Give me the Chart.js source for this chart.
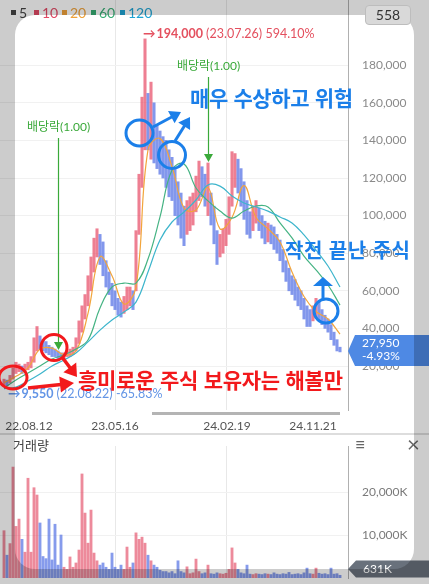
<!DOCTYPE html>
<html lang="ko">
<head>
<meta charset="utf-8">
<title>주가 차트</title>
<script src="https://cdn.jsdelivr.net/npm/chart.js@4.4.1/dist/chart.umd.min.js"></script>
<style>
  html, body { margin: 0; padding: 0; background: #fff; }
  #stage { position: relative; width: 429px; height: 584px; overflow: hidden; font-family: Lato, "Noto Sans CJK KR", sans-serif; }
  #priceWrap { position: absolute; left: 0; top: 0; width: 429px; height: 434px; }
  #volWrap { position: absolute; left: 0; top: 436px; width: 429px; height: 148px; }
  .abs { position: absolute; white-space: nowrap; }
  #panelLine { left: 0; top: 433px; width: 429px; height: 2px; background: #dddddd; }
  #scroll { left: 152px; top: 412px; width: 188px; height: 3px; background: #b4b4b4; }
  .lg { top: 4px; font-size: 14px; line-height: 18px; }
  .lg i { display: inline-block; width: 5px; height: 5px; margin-right: 3px; vertical-align: 3px; }
  #volTitle { left: 13px; top: 436px; font-size: 13px; line-height: 18px; color: #444; font-family: "Noto Sans CJK KR"; }
  #menu { left: 355px; top: 433px; font-size: 18px; line-height: 22px; color: #666; }
  #close { left: 407px; top: 432px; font-size: 22px; line-height: 24px; color: #666; }
  #shade { position: absolute; left: 15px; top: 15px; width: 399px; height: 554px; border-radius: 20px;
           box-shadow: 0 0 0 700px rgba(0,0,0,0.2); z-index: 5; pointer-events: none; }
  #box558 { z-index: 6; left: 365px; top: 5px; width: 44px; height: 18px; border: 1px solid #bdbdbd; border-radius: 4px;
            background: #d9d9d9; font-size: 14px; line-height: 18px; text-align: center; color: #333; }
  #notes { position: absolute; left: 0; top: 0; z-index: 7; }
</style>
</head>
<body>
<div id="stage">
  <div id="priceWrap"><canvas id="priceChart"></canvas></div>
  <div id="volWrap"><canvas id="volChart"></canvas></div>
  <div class="abs" id="panelLine"></div>
  <div class="abs" id="scroll"></div>

  <div class="abs lg" style="left:11px;color:#444"><i style="background:#444"></i>5</div>
  <div class="abs lg" style="left:34px;color:#e24a66"><i style="background:#e24a66"></i>10</div>
  <div class="abs lg" style="left:62px;color:#f0a23a"><i style="background:#f0a23a"></i>20</div>
  <div class="abs lg" style="left:91px;color:#38ad74"><i style="background:#38ad74"></i>60</div>
  <div class="abs lg" style="left:120px;color:#1fa4d4"><i style="background:#1fa4d4"></i>120</div>

  <div class="abs" id="volTitle">거래량</div>
  <div class="abs" id="menu">≡</div>
  <div class="abs" id="close">×</div>

  <div id="shade"></div>
  <div class="abs" id="box558">558</div>
  <svg id="notes" width="429" height="584"></svg>
</div>

<script>
// prices are typed in thousands of won
const UNIT = 1000;

// one candle per ~5 trading days (low / high)
const lowsK = [10, 9.55, 11, 13, 16, 17, 16, 17, 18, 19, 22, 28, 29, 28, 27, 26, 25, 25, 24, 24,
  24, 25, 25, 26, 28, 32, 38, 45, 52, 60, 70, 78, 74, 68, 62, 58, 52, 50, 47, 46,
  48, 50, 52, 50, 60, 90, 115, 135, 135, 130, 128, 125, 122, 120, 115, 110, 108, 100, 95, 88,
  84, 90, 92, 95, 102, 108, 110, 105, 100, 95, 85, 74, 78, 80, 84, 90, 105, 115, 112, 105,
  98, 90, 88, 92, 96, 92, 88, 85, 86, 85, 82, 80, 76, 70, 65, 60, 58, 55, 52, 50,
  45, 41, 41, 44, 46, 44, 42, 40, 38, 34, 31, 28, 27.5];
const highsK = [13, 12.5, 15, 19, 22, 21, 20, 21, 22, 25, 35, 41, 36, 34, 33, 31, 30, 29, 28, 27,
  27, 28, 29, 30, 35, 44, 52, 58, 68, 78, 88, 93, 90, 86, 76, 70, 64, 60, 56, 54,
  57, 62, 62, 60, 92, 122, 163, 194, 165, 171, 160, 148, 145, 142, 140, 135, 131, 125, 118, 112,
  105, 108, 110, 112, 121, 129, 126, 122, 128, 112, 105, 92, 90, 93, 98, 110, 134, 133, 130, 125,
  118, 108, 102, 105, 108, 104, 100, 97, 96, 95, 94, 90, 87, 82, 76, 72, 68, 66, 62, 60,
  56, 52, 50, 52, 56, 54, 50, 47, 45, 42, 38, 34, 30];

// moving averages, read every 4th candle
const MA_STEP = 4;
const ma20K = [11, 14.5, 19, 29, 29.5, 26, 28, 48, 78, 68, 53, 62, 135, 141, 126, 104, 103, 115, 93, 99,
  116, 99, 93, 86, 70, 57, 49, 45, 37];
const ma60K = [8.3, 12.6, 16.3, 20, 23.7, 25.9, 29, 33.8, 50.9, 62, 64.1, 64.1, 76.9, 99.3, 124.3, 127.5,
  114.7, 107.8, 102.4, 98.7, 102.4, 105.1, 104.6, 96.1, 88.1, 78.5, 71.1, 63.1, 52.4];
const ma120K = [8, 8.8, 12, 15.7, 20, 23.2, 26.9, 32.8, 39.1, 44.5, 48.7, 54, 70, 87, 96.6, 101.9,
  108.3, 116.3, 115.7, 110.4, 106.7, 104.6, 102.4, 99.3, 96.1, 89.7, 81.7, 73.2, 62];

// volume in thousand shares
const volumesK = [11000, 5300, 8000, 25800, 12000, 13700, 9000, 6000, 23200, 6000,
  21000, 19300, 12800, 5000, 4500, 13700, 4200, 12500, 3000, 10000,
  2500, 2000, 4900, 2500, 3500, 6500, 24200, 15100, 8100, 15800,
  5800, 4000, 3000, 3500, 2500, 2000, 5800, 2500, 2000, 3000,
  2000, 7200, 2500, 3500, 10500, 9000, 9500, 8100, 5300, 4000,
  3000, 2500, 1800, 1500, 1500, 1200, 1500, 1000, 4000, 1500,
  1200, 2600, 1000, 1200, 4400, 1500, 1000, 1200, 3000, 1000,
  900, 1200, 1000, 900, 1100, 2000, 7000, 3500, 2000, 1200,
  1000, 3000, 900, 800, 1000, 900, 800, 1000, 900, 800,
  1200, 900, 800, 1000, 900, 1300, 800, 900, 1000, 800,
  1200, 2300, 1000, 900, 2300, 1100, 900, 1000, 800, 2300,
  900, 1000, 631];

const priceTicks = [20000, 40000, 60000, 80000, 100000, 120000, 140000, 160000, 180000];
const volumeTicks = [10000, 20000];
const dateTickIdx = [8.3, 37, 74.3, 103];
const dateLabels = ['22.08.12', '23.05.16', '24.02.19', '24.11.21'];
const gridDateIdx = [37, 74.3];
const maxDate = '23.07.26';
const minDate = '22.08.22';
const lastPrice = 27950;
const lastChangePct = -4.93;
const exDivIdx = [18, 68];
const exDivText = '배당락(1.00)';

// candle colour from the direction of each bar's midpoint
const mids = lowsK.map((l, i) => (l + highsK[i]) / 2);
const isUp = mids.map((m, i) => i === 0 ? true : m >= mids[i - 1]);
const UP = 'rgba(232,78,104,0.72)';
const DOWN = 'rgba(88,116,230,0.75)';

const X_MIN = -4 / 3;
const X_MAX = X_MIN + 116;

const maPoints = arr => arr.map((v, k) => ({ x: k * MA_STEP, y: v * UNIT }));
const fmt = v => Math.round(v).toLocaleString('en-US');

function maSet(arr, color) {
    return { type: 'line', data: maPoints(arr), borderColor: color, borderWidth: 1.2,
             pointRadius: 0, tension: 0.4, order: 1 };
}

const priceMarks = {
    id: 'priceMarks',
    afterDraw(chart) {
        const { ctx, chartArea } = chart;
        const x = chart.scales.x, y = chart.scales.y;
        ctx.save();
        ctx.textBaseline = 'middle';
        ctx.textAlign = 'left';

        // ex-dividend markers
        const labelY = [127, 66];
        ctx.strokeStyle = '#3aa93a';
        ctx.fillStyle = '#3aa93a';
        ctx.lineWidth = 1.2;
        exDivIdx.forEach((idx, k) => {
            const px = Math.round(x.getPixelForValue(idx)) + 0.5;
            const tip = y.getPixelForValue(highsK[idx] * UNIT) - 1;
            ctx.beginPath();
            ctx.moveTo(px, labelY[k] + 11);
            ctx.lineTo(px, tip - 7);
            ctx.stroke();
            ctx.beginPath();
            ctx.moveTo(px - 4.5, tip - 8);
            ctx.lineTo(px + 4.5, tip - 8);
            ctx.lineTo(px, tip);
            ctx.closePath();
            ctx.fill();
            ctx.font = '12px Lato, "Noto Sans CJK KR"';
            ctx.textAlign = 'center';
            ctx.fillText(exDivText, px, labelY[k]);
            ctx.textAlign = 'left';
        });

        // highest / lowest labels
        const hi = Math.max(...highsK), hiIdx = highsK.indexOf(hi);
        const lo = Math.min(...lowsK), loIdx = lowsK.indexOf(lo);
        const hiPct = ((hi * UNIT / lastPrice) - 1) * 100;
        const loPct = ((lo * UNIT / lastPrice) - 1) * 100;

        let tx = x.getPixelForValue(hiIdx) - 2;
        let ty = y.getPixelForValue(hi * UNIT) - 5;
        ctx.fillStyle = '#e4505f';
        ctx.font = 'bold 12.5px Lato, "DejaVu Sans"';
        ctx.fillText('→', tx, ty); tx += ctx.measureText('→').width + 1;
        ctx.fillText(fmt(hi * UNIT), tx, ty); tx += ctx.measureText(fmt(hi * UNIT)).width;
        ctx.font = '12.5px Lato';
        ctx.fillText(' (' + maxDate + ') ' + hiPct.toFixed(2) + '%', tx, ty);

        tx = x.getPixelForValue(loIdx) + 1;
        ty = y.getPixelForValue(lo * UNIT) + 8;
        ctx.fillStyle = '#6395e6';
        ctx.font = 'bold 12.5px Lato, "DejaVu Sans"';
        ctx.fillText('→', tx, ty); tx += ctx.measureText('→').width + 1;
        ctx.fillText(fmt(lo * UNIT), tx, ty); tx += ctx.measureText(fmt(lo * UNIT)).width;
        ctx.font = '12.5px Lato';
        ctx.fillText(' (' + minDate + ') ' + loPct.toFixed(2) + '%', tx, ty);

        // current price tag on the axis
        const cy = y.getPixelForValue(lastPrice);
        const L = chartArea.right;
        ctx.fillStyle = '#4e89e4';
        ctx.beginPath();
        ctx.moveTo(L, cy);
        ctx.lineTo(L + 7, cy - 16);
        ctx.lineTo(429, cy - 16);
        ctx.lineTo(429, cy + 15);
        ctx.lineTo(L + 7, cy + 15);
        ctx.closePath();
        ctx.fill();
        ctx.fillStyle = '#ffffff';
        ctx.font = '12px Lato';
        ctx.fillText(fmt(lastPrice), L + 14, cy - 8);
        ctx.fillText(lastChangePct.toFixed(2) + '%', L + 14, cy + 5);
        ctx.restore();
    }
};

new Chart(document.getElementById('priceChart'), {
    type: 'bar',
    data: {
        datasets: [
            maSet(ma120K, '#3db5cc'),
            maSet(ma60K, '#45b383'),
            maSet(ma20K, '#f2a53c'),
            {
                type: 'bar',
                data: lowsK.map((l, i) => ({ x: i, y: [l * UNIT, highsK[i] * UNIT] })),
                backgroundColor: isUp.map(u => u ? UP : DOWN),
                barThickness: 2.4,
                order: 2
            }
        ]
    },
    options: {
        responsive: true,
        maintainAspectRatio: false,
        animation: false,
        layout: { padding: { left: 0, right: 0, top: 0, bottom: 0 } },
        plugins: { legend: { display: false }, tooltip: { enabled: false } },
        scales: {
            x: {
                type: 'linear', min: X_MIN, max: X_MAX, offset: false,
                afterBuildTicks: s => { s.ticks = dateTickIdx.map(v => ({ value: v })); },
                afterFit: s => { s.height = 24; s.paddingLeft = 0; s.paddingRight = 0; },
                ticks: {
                    callback: (v, i) => dateLabels[i],
                    padding: 9, color: '#555', font: { size: 12, family: 'Lato' },
                    maxRotation: 0, autoSkip: false
                },
                grid: {
                    drawTicks: false, offset: false,
                    color: c => (c.tick && gridDateIdx.includes(c.tick.value)) ? '#e8e8e8' : 'rgba(0,0,0,0)'
                },
                border: { display: false }
            },
            y: {
                position: 'right', min: -3404, max: 214681,
                afterBuildTicks: s => { s.ticks = priceTicks.map(v => ({ value: v })); },
                afterFit: s => { s.width = 81; s.paddingTop = 0; s.paddingBottom = 0; },
                ticks: { callback: v => fmt(v), color: '#8a8a8a', font: { size: 12, family: 'Lato' }, padding: 14 },
                grid: { color: '#f1f1f1', drawTicks: false },
                border: { display: true, color: '#b0b0b0' }
            }
        }
    },
    plugins: [priceMarks]
});

const volumeMarks = {
    id: 'volumeMarks',
    afterDraw(chart) {
        const { ctx, chartArea } = chart;
        const y = chart.scales.y;
        const last = volumesK[volumesK.length - 1];
        const cy = Math.min(y.getPixelForValue(last), chartArea.bottom - 9);
        const L = chartArea.right;
        ctx.save();
        ctx.fillStyle = '#69717c';
        ctx.beginPath();
        ctx.moveTo(L, cy);
        ctx.lineTo(L + 8, cy - 8.5);
        ctx.lineTo(429, cy - 8.5);
        ctx.lineTo(429, cy + 8.5);
        ctx.lineTo(L + 8, cy + 8.5);
        ctx.closePath();
        ctx.fill();
        ctx.fillStyle = '#ffffff';
        ctx.font = '12px Lato';
        ctx.textBaseline = 'middle';
        ctx.fillText(fmt(last) + 'K', L + 15, cy);
        ctx.restore();
    }
};

new Chart(document.getElementById('volChart'), {
    type: 'bar',
    data: {
        datasets: [{
            data: volumesK.map((v, i) => ({ x: i, y: v })),
            backgroundColor: isUp.map(u => u ? 'rgba(228,76,102,0.65)' : 'rgba(88,116,228,0.72)'),
            barThickness: 2.2
        }]
    },
    options: {
        responsive: true,
        maintainAspectRatio: false,
        animation: false,
        layout: { padding: { left: 0, right: 0, top: 10, bottom: 0 } },
        plugins: { legend: { display: false }, tooltip: { enabled: false } },
        scales: {
            x: {
                type: 'linear', min: X_MIN, max: X_MAX, offset: false,
                afterBuildTicks: s => { s.ticks = gridDateIdx.map(v => ({ value: v })); },
                afterFit: s => { s.height = 6; s.paddingLeft = 0; s.paddingRight = 0; },
                ticks: { display: false },
                grid: { drawTicks: false, offset: false, color: '#e8e8e8' },
                border: { display: false }
            },
            y: {
                position: 'right', min: 0, max: 30698,
                afterBuildTicks: s => { s.ticks = volumeTicks.map(v => ({ value: v })); },
                afterFit: s => { s.width = 81; s.paddingTop = 0; s.paddingBottom = 0; },
                ticks: { callback: v => fmt(v) + 'K', color: '#7a7a7a', font: { size: 12, family: 'Lato' }, padding: 14 },
                grid: { color: '#f1f1f1', drawTicks: false },
                border: { display: true, color: '#b0b0b0' }
            }
        }
    },
    plugins: [volumeMarks]
});

// hand-drawn notes on top of the screenshot
function arrow(x1, y1, x2, y2, head, half, color, width) {
    const dx = x2 - x1, dy = y2 - y1, len = Math.hypot(dx, dy);
    const ux = dx / len, uy = dy / len;
    const bx = x2 - ux * head, by = y2 - uy * head;
    const px = -uy * half, py = ux * half;
    return `<line x1="${x1}" y1="${y1}" x2="${bx + ux}" y2="${by + uy}" stroke="${color}" stroke-width="${width}"/>` +
        `<polygon points="${x2},${y2} ${bx + px},${by + py} ${bx - px},${by - py}" fill="${color}"/>`;
}

const BLUE = '#1b7fe9';
const RED = '#f2191c';
const notes = document.getElementById('notes');
notes.innerHTML =
    `<g fill="none" stroke="${BLUE}" stroke-width="3">
       <ellipse cx="139.5" cy="133" rx="13.5" ry="13"/>
       <circle cx="172" cy="155" r="13.5"/>
       <circle cx="326" cy="311" r="12"/>
     </g>
     <g fill="none" stroke="${RED}" stroke-width="3">
       <ellipse cx="13" cy="377.5" rx="14" ry="11.5"/>
       <circle cx="54" cy="347.5" r="13"/>
     </g>` +
    arrow(153, 127, 181, 112, 11, 7, BLUE, 3) +
    arrow(175, 141, 190, 117, 11, 7, BLUE, 3) +
    arrow(323, 300, 323, 277, 9, 10, BLUE, 3) +
    arrow(28, 388, 74, 383, 14, 8, RED, 3.5) +
    arrow(62, 357, 77, 377, 12, 8, RED, 3.5) +
    `<g font-family="Noto Sans CJK KR" font-weight="700" dominant-baseline="central">
       <text x="190" y="97" font-size="21" fill="${BLUE}" textLength="163" lengthAdjust="spacing">매우 수상하고 위험</text>
       <text x="285" y="249" font-size="20" fill="${BLUE}" textLength="125" lengthAdjust="spacing">작전 끝난 주식</text>
       <text x="78" y="379" font-size="21" fill="${RED}" textLength="265" lengthAdjust="spacing">흥미로운 주식 보유자는 해볼만</text>
     </g>`;
</script>
</body>
</html>
